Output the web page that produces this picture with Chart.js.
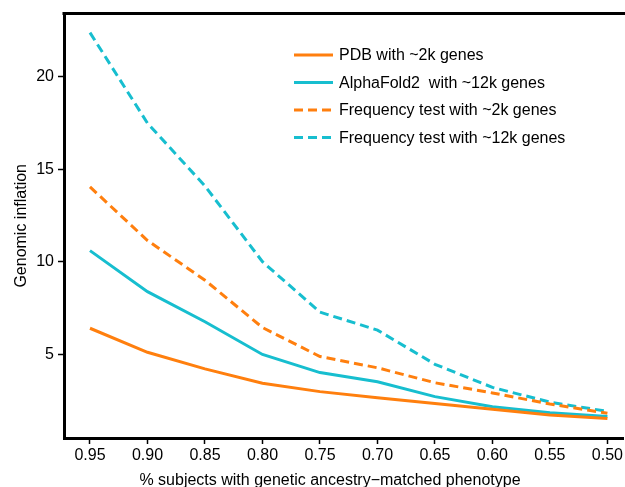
<!DOCTYPE html>
<html>
<head>
<meta charset="utf-8">
<script src="https://cdn.jsdelivr.net/npm/chart.js@4/dist/chart.umd.min.js"></script>
<style>
  html, body { margin: 0; padding: 0; background: #fff; overflow: hidden; }
  #wrap { width: 625px; height: 487px; position: relative; }
</style>
</head>
<body>
<div id="wrap"><canvas id="inflation-chart"></canvas></div>
<script>
const fractions = [0.95, 0.90, 0.85, 0.80, 0.75, 0.70, 0.65, 0.60, 0.55, 0.50];
const pdb2k = [6.4, 5.1, 4.2, 3.42, 2.97, 2.64, 2.33, 2.02, 1.7, 1.52];
const alphafold12k = [10.6, 8.38, 6.75, 4.98, 4.0, 3.5, 2.7, 2.15, 1.83, 1.62];
const freq2k = [14.05, 11.15, 9.0, 6.44, 4.87, 4.26, 3.45, 2.9, 2.3, 1.8];
const freq12k = [22.4, 17.5, 14.1, 10.0, 7.27, 6.3, 4.45, 3.2, 2.4, 1.9];
const xTicks = [0.95, 0.90, 0.85, 0.80, 0.75, 0.70, 0.65, 0.60, 0.55, 0.50];
const yTicks = [5, 10, 15, 20];

const orange = "#ff7f0e";
const cyan = "#17becf";
const fontFamily = "'Liberation Sans', Arial, sans-serif";

function pts(vals) {
  return fractions.map((f, i) => ({ x: f, y: vals[i] }));
}

const data = {
  datasets: [
    { label: "PDB with ~2k genes", data: pts(pdb2k), borderColor: orange, borderDash: [] },
    { label: "AlphaFold2  with ~12k genes", data: pts(alphafold12k), borderColor: cyan, borderDash: [] },
    { label: "Frequency test with ~2k genes", data: pts(freq2k), borderColor: orange, borderDash: [9, 5] },
    { label: "Frequency test with ~12k genes", data: pts(freq12k), borderColor: cyan, borderDash: [9, 5] },
  ],
};

// top frame line, x title and legend drawn by hand
const extras = {
  id: "extras",
  afterDraw(chart) {
    const ctx = chart.ctx;
    const a = chart.chartArea;
    ctx.save();
    ctx.strokeStyle = "#000";
    ctx.lineWidth = 3;
    ctx.beginPath();
    ctx.moveTo(a.left - 1.5, a.top);
    ctx.lineTo(a.right + 2, a.top);
    ctx.stroke();

    ctx.fillStyle = "#000";
    ctx.font = "16px " + fontFamily;
    ctx.textAlign = "center";
    ctx.textBaseline = "alphabetic";
    ctx.fillText("% subjects with genetic ancestry\u2212matched phenotype", 330, 485);

    ctx.textAlign = "left";
    ctx.textBaseline = "middle";
    chart.data.datasets.forEach((ds, i) => {
      const y = 55 + i * 27.5;
      ctx.strokeStyle = ds.borderColor;
      ctx.lineWidth = 3;
      ctx.setLineDash(ds.borderDash.length ? [9, 5] : []);
      ctx.beginPath();
      ctx.moveTo(294, y);
      ctx.lineTo(333, y);
      ctx.stroke();
      ctx.setLineDash([]);
      ctx.fillText(ds.label, 339, y + 1);
    });
    ctx.restore();
  },
};

const config = {
  type: "line",
  data: data,
  plugins: [extras],
  options: {
    responsive: true,
    maintainAspectRatio: false,
    animation: false,
    layout: { padding: { top: 13, right: 0, left: 0, bottom: 0 } },
    elements: {
      line: { borderWidth: 3, tension: 0, fill: false },
      point: { radius: 0 },
    },
    plugins: {
      legend: { display: false },
      tooltip: { enabled: false },
    },
    scales: {
      x: {
        type: "linear",
        reverse: true,
        min: 0.486,
        max: 0.9726,
        afterBuildTicks: (s) => { s.ticks = xTicks.map((v) => ({ value: v })); },
        afterFit: (s) => { s.height = 49; },
        ticks: {
          color: "#000",
          font: { family: fontFamily, size: 16 },
          padding: 2,
          maxRotation: 0,
          callback: (v) => v.toFixed(2),
        },
        grid: { drawOnChartArea: false, drawTicks: true, tickLength: 6, color: "#000", tickWidth: 1.5 },
        border: { color: "#000", width: 3 },
      },
      y: {
        type: "linear",
        min: 0.46,
        max: 23.43,
        afterBuildTicks: (s) => { s.ticks = yTicks.map((v) => ({ value: v })); },
        afterFit: (s) => { s.width = 64; },
        ticks: {
          color: "#000",
          font: { family: fontFamily, size: 16 },
          padding: 4,
        },
        grid: { drawOnChartArea: false, drawTicks: true, tickLength: 6, color: "#000", tickWidth: 1.5 },
        border: { color: "#000", width: 3 },
        title: {
          display: true,
          text: "Genomic inflation",
          color: "#000",
          font: { family: fontFamily, size: 16 },
          padding: { top: 12, bottom: 0 },
        },
      },
    },
  },
};

let myChart = new Chart(document.getElementById("inflation-chart"), config);
</script>
</body>
</html>
